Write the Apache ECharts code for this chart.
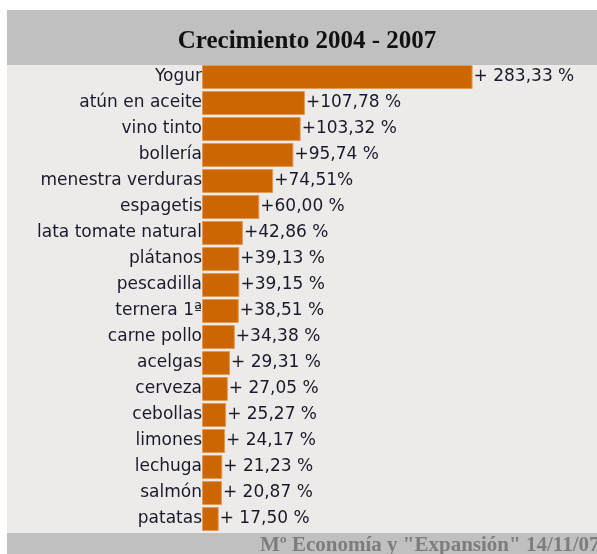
<!DOCTYPE html>
<html>
<head>
<meta charset="utf-8">
<script src="https://cdn.jsdelivr.net/npm/echarts@6/dist/echarts.min.js"></script>
<style>
  html, body { margin: 0; padding: 0; background: #fff; }
  #chart { width: 597px; height: 554px; }
</style>
</head>
<body>
<div id="chart"></div>
<script>
    let productos = ['Yogur', 'atún en aceite', 'vino tinto', 'bollería', 'menestra verduras', 'espagetis',
        'lata tomate natural', 'plátanos', 'pescadilla', 'ternera 1ª', 'carne pollo', 'acelgas',
        'cerveza', 'cebollas', 'limones', 'lechuga', 'salmón', 'patatas'];
    let crecimiento = [283.33, 107.78, 103.32, 95.74, 74.51, 60.00, 42.86, 39.13, 39.15, 38.51, 34.38,
        29.31, 27.05, 25.27, 24.17, 21.23, 20.87, 17.50];
    let etiquetas = ['+ 283,33 %', '+107,78 %', '+103,32 %', '+95,74 %', '+74,51%', '+60,00 %', '+42,86 %',
        '+39,13 %', '+39,15 %', '+38,51 %', '+34,38 %', '+ 29,31 %', '+ 27,05 %', '+ 25,27 %', '+ 24,17 %',
        '+ 21,23 %', '+ 20,87 %', '+ 17,50 %'];

    let dom = document.getElementById('chart');
    let chart = echarts.init(dom);
    let option = {
        backgroundColor: '#fff',
        animation: false,
        graphic: [
            { type: 'rect', z: -10, shape: { x: 7, y: 10, width: 590, height: 55 }, style: { fill: '#c0c0c0' } },
            { type: 'rect', z: -10, shape: { x: 7, y: 65, width: 590, height: 468 }, style: { fill: '#ecebea' } },
            { type: 'rect', z: -10, shape: { x: 7, y: 533, width: 590, height: 21 }, style: { fill: '#c0c0c0' } },
            {
                type: 'text', z: 10, left: 260, top: 535,
                style: {
                    text: 'Mº Economía y "Expansión" 14/11/07',
                    fill: '#7d7d7d',
                    font: 'bold 21px "Liberation Serif", serif'
                }
            }
        ],
        title: {
            text: 'Crecimiento 2004 - 2007',
            left: 302,
            textAlign: 'center',
            top: 24,
            textStyle: {
                fontFamily: '"Liberation Serif", serif',
                fontWeight: 'bold',
                fontSize: 25,
                color: '#111'
            }
        },
        grid: {
            left: 202,
            top: 64,
            width: 382,
            height: 468
        },
        xAxis: {
            type: 'value',
            min: 0,
            max: 400,
            show: false
        },
        yAxis: {
            type: 'category',
            data: productos,
            inverse: true,
            axisLine: { show: false },
            axisTick: { show: false },
            axisLabel: {
                margin: 0,
                color: '#1a1a2a',
                fontFamily: '"DejaVu Sans", sans-serif',
                fontSize: 17
            }
        },
        series: [{
            type: 'bar',
            data: crecimiento,
            barWidth: 24,
            itemStyle: {
                color: '#cc6600',
                borderColor: '#e39a55',
                borderWidth: 1
            },
            label: {
                show: true,
                position: 'right',
                distance: 1,
                color: '#1a1a2a',
                fontFamily: '"DejaVu Sans", sans-serif',
                fontSize: 17,
                formatter: function (p) {
                    return etiquetas[p.dataIndex];
                }
            }
        }]
    };
    chart.setOption(option);
    window.addEventListener('resize', function () {
        chart.resize();
    })
</script>
</body>
</html>
